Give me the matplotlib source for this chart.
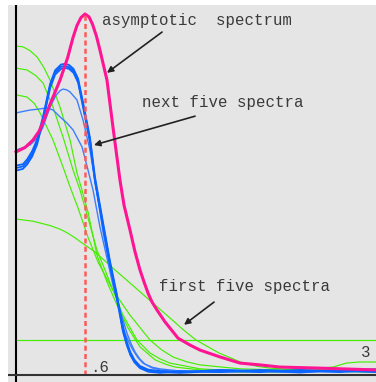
import matplotlib
matplotlib.use("agg")
import matplotlib.pyplot as plt

# asymptotic spectrum (pink)
asym_x = [0, 0.078, 0.148, 0.200, 0.235, 0.296, 0.383, 0.450, 0.496, 0.530, 0.565,
          0.600, 0.635, 0.665, 0.700, 0.730, 0.791, 0.843, 0.904, 0.939, 0.991,
          1.035, 1.078, 1.113, 1.148, 1.183, 1.226, 1.296, 1.409, 1.513, 1.600,
          1.774, 1.948, 2.122, 2.296, 2.643, 3.130]
asym_y = [0.618, 0.630, 0.651, 0.675, 0.700, 0.750, 0.817, 0.880, 0.935, 0.968, 0.990,
          1.000, 0.992, 0.972, 0.938, 0.900, 0.817, 0.687, 0.540, 0.471, 0.402,
          0.341, 0.291, 0.258, 0.227, 0.202, 0.180, 0.147, 0.102, 0.083, 0.069,
          0.050, 0.033, 0.028, 0.022, 0.019, 0.014]

# next five spectra (blue)
tall_x = [0, 0.060, 0.096, 0.140, 0.183, 0.235, 0.296, 0.340, 0.391, 0.426, 0.461,
          0.500, 0.540, 0.583, 0.643, 0.687, 0.757, 0.817, 0.878, 0.930, 0.965,
          0.995, 1.030, 1.078, 1.150, 1.252, 1.426, 1.774, 2.122, 2.470, 2.817,
          3.130]
tall_a = [0.573, 0.578, 0.590, 0.612, 0.645, 0.710, 0.800, 0.838, 0.854, 0.856, 0.853,
          0.842, 0.815, 0.748, 0.651, 0.540, 0.416, 0.310, 0.216, 0.125, 0.085,
          0.058, 0.038, 0.022, 0.012, 0.008, 0.006, 0.011, 0.008, 0.014, 0.011,
          0.008]
tall_b = [0.580, 0.584, 0.597, 0.620, 0.652, 0.716, 0.806, 0.844, 0.860, 0.862, 0.859,
          0.848, 0.821, 0.755, 0.658, 0.548, 0.422, 0.316, 0.222, 0.130, 0.090,
          0.063, 0.042, 0.025, 0.015, 0.011, 0.008, 0.014, 0.011, 0.008, 0.014,
          0.011]
tall_c = [0.566, 0.571, 0.583, 0.605, 0.638, 0.704, 0.794, 0.832, 0.848, 0.851, 0.848,
          0.837, 0.810, 0.742, 0.645, 0.535, 0.410, 0.304, 0.210, 0.120, 0.081,
          0.055, 0.035, 0.019, 0.009, 0.006, 0.011, 0.008, 0.014, 0.011, 0.008,
          0.014]
mid_x = [0, 0.122, 0.190, 0.235, 0.296, 0.348, 0.385, 0.409, 0.440, 0.470, 0.530,
         0.583, 0.643, 0.696, 0.757, 0.817, 0.878, 0.948, 0.985, 1.017, 1.060,
         1.104, 1.180, 1.252, 1.426, 1.774, 2.122, 2.470, 2.817, 3.130]
mid_y = [0.623, 0.637, 0.658, 0.687, 0.742, 0.775, 0.788, 0.792, 0.790, 0.784, 0.762,
         0.706, 0.623, 0.521, 0.396, 0.296, 0.208, 0.116, 0.088, 0.069, 0.048,
         0.033, 0.020, 0.014, 0.008, 0.014, 0.011, 0.006, 0.014, 0.017]
flat_x = [0, 0.122, 0.209, 0.270, 0.322, 0.383, 0.443, 0.496, 0.574, 0.626, 0.670,
          0.730, 0.791, 0.843, 0.904, 0.965, 1.000, 1.035, 1.075, 1.122, 1.190,
          1.252, 1.426, 1.774, 2.122, 2.470, 2.817, 3.130]
flat_y = [0.726, 0.734, 0.737, 0.740, 0.734, 0.715, 0.698, 0.679, 0.632, 0.568, 0.512,
          0.410, 0.324, 0.249, 0.180, 0.116, 0.087, 0.064, 0.045, 0.030, 0.021,
          0.017, 0.011, 0.008, 0.011, 0.008, 0.014, 0.011]

# first five spectra (green)
g0_x = [0, 3.130]
g0_y = [0.097, 0.097]
g1_x = [0, 0.148, 0.296, 0.383, 0.450, 0.513, 0.600, 0.687, 0.843, 0.991, 1.191,
        1.339, 1.452, 1.565, 1.765, 1.974, 2.100, 2.209, 2.643, 3.130]
g1_y = [0.432, 0.426, 0.414, 0.404, 0.393, 0.380, 0.360, 0.341, 0.296, 0.255, 0.199,
        0.158, 0.126, 0.097, 0.061, 0.033, 0.024, 0.019, 0.011, 0.008]
g2_x = [0, 0.096, 0.160, 0.209, 0.322, 0.409, 0.470, 0.539, 0.626, 0.713, 0.843,
        0.991, 1.165, 1.265, 1.365, 1.480, 1.600, 1.948, 2.296, 2.643, 2.757, 2.870,
        2.983, 3.130]
g2_y = [0.776, 0.770, 0.752, 0.726, 0.651, 0.576, 0.521, 0.463, 0.382, 0.313, 0.235,
        0.166, 0.097, 0.070, 0.050, 0.037, 0.028, 0.017, 0.014, 0.019, 0.022, 0.033,
        0.036, 0.036]
g3_x = [0, 0.096, 0.170, 0.235, 0.322, 0.409, 0.496, 0.557, 0.626, 0.704, 0.774,
        0.843, 0.930, 1.052, 1.165, 1.250, 1.339, 1.600, 1.948, 2.296, 2.643, 3.130]
g3_y = [0.850, 0.845, 0.830, 0.809, 0.742, 0.659, 0.568, 0.512, 0.435, 0.346, 0.291,
        0.235, 0.166, 0.097, 0.061, 0.045, 0.033, 0.017, 0.011, 0.008, 0.011, 0.014]
g4_x = [0, 0.061, 0.120, 0.183, 0.240, 0.296, 0.383, 0.470, 0.530, 0.574, 0.626,
        0.704, 0.791, 0.878, 0.974, 1.078, 1.209, 1.300, 1.383, 1.600, 1.948, 2.296,
        2.643, 3.130]
g4_y = [0.911, 0.909, 0.899, 0.881, 0.853, 0.817, 0.742, 0.651, 0.560, 0.512, 0.452,
        0.332, 0.258, 0.194, 0.130, 0.078, 0.042, 0.030, 0.022, 0.014, 0.008, 0.011,
        0.014, 0.011]

peak_x = 0.6

fig = plt.figure(figsize=(3.76, 3.82), dpi=100, facecolor="white")
ax = fig.add_axes([8 / 376, 0, 368 / 376, 377 / 382])
ax.set_facecolor("#e5e5e5")
ax.set_xlim(-8 / 115, 360 / 115)
ax.set_ylim(-7 / 361, 370 / 361)
for s in ax.spines.values():
    s.set_visible(False)
ax.set_xticks([])
ax.set_yticks([])

green = "#44ee00"
for gx, gy in [(g0_x, g0_y), (g1_x, g1_y), (g2_x, g2_y), (g3_x, g3_y), (g4_x, g4_y)]:
    ax.plot(gx, gy, color=green, lw=0.85, zorder=2)

ax.plot(flat_x, flat_y, color="#3c7dff", lw=1.0, zorder=3)
ax.plot(mid_x, mid_y, color="#3c7dff", lw=1.0, zorder=3)
for ty in [tall_a, tall_b, tall_c]:
    ax.plot(tall_x, ty, color="#0a64ff", lw=1.3, zorder=3)

ax.plot(asym_x, asym_y, color="#ff1493", lw=2.2, zorder=4, solid_joinstyle="round")

# vertical marker under the asymptotic peak
ln, = ax.plot([peak_x, peak_x], [0, max(asym_y)], color="#ff5a5a", lw=1.8, zorder=5)
ln.set_dashes([2.0, 1.3])

# axes through the origin
ax.axvline(0, color="black", lw=1.5, zorder=6)
ax.axhline(0, color="#333333", lw=1.5, zorder=6)

font = dict(family="Liberation Mono", size=11.3, color="#3a3a3a")
ax.text(0.748, 0.970, "asymptotic  spectrum", ha="left", va="baseline", **font)
ax.text(1.096, 0.742, "next five spectra", ha="left", va="baseline", **font)
ax.text(1.243, 0.233, "first five spectra", ha="left", va="baseline", **font)
ax.text(0.643, 0.008, ".6", ha="left", va="baseline", **font)
ax.text(3.0, 0.050, "3", ha="left", va="baseline", **font)

arrow = dict(arrowstyle="-|>", color="#222222", lw=1.2, mutation_scale=9,
             shrinkA=0, shrinkB=0)
ax.annotate("", xy=(0.791, 0.837), xytext=(1.270, 0.950), arrowprops=arrow, zorder=7)
ax.annotate("", xy=(0.678, 0.637), xytext=(1.557, 0.717), arrowprops=arrow, zorder=7)
ax.annotate("", xy=(1.461, 0.139), xytext=(1.722, 0.202), arrowprops=arrow, zorder=7)

fig.savefig("out.png", dpi=100, facecolor="white")
